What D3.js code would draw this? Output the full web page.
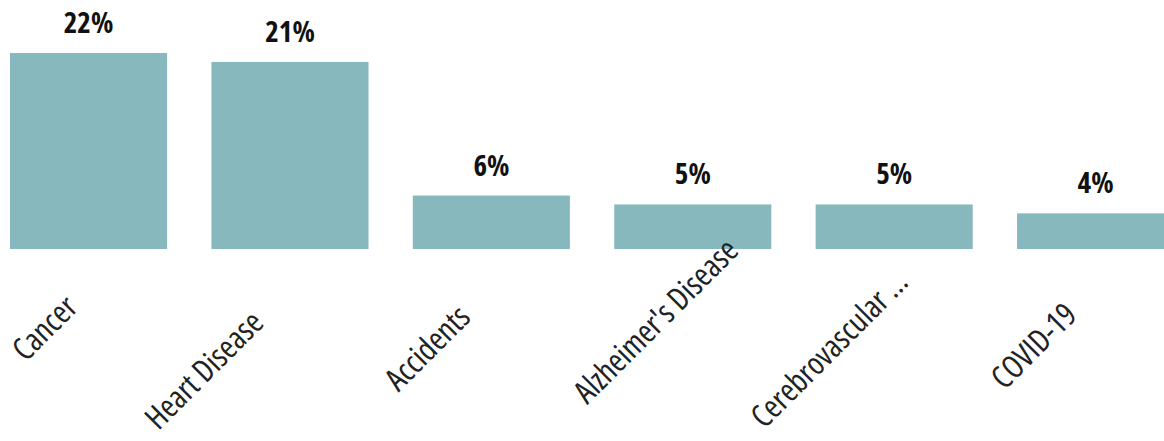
<!DOCTYPE html>
<html>
<head>
<meta charset="utf-8">
<script src="https://cdn.jsdelivr.net/npm/d3@7"></script>
<style>
  html, body { margin: 0; padding: 0; background: #ffffff; }
  svg { display: block; }
</style>
</head>
<body>
<div id="chart"></div>
<script>
// chart data
const categories = ["Cancer", "Heart Disease", "Accidents", "Alzheimer's Disease", "Cerebrovascular \u2026", "COVID-19"];
const shares = [22, 21, 6, 5, 5, 4];

// size of the page
var width = 1164;
var height = 441;

var svg = d3.select("#chart")
    .append("svg")
        .attr("width", width)
        .attr("height", height);

// band scale: bars start at x=10, step ~201px, bar ~157px
var x = d3.scaleBand()
    .domain(categories)
    .range([-12.15, 1196.3])
    .paddingInner(0.22)
    .paddingOuter(0.11);

var y = d3.scaleLinear()
    .domain([0, 22])
    .range([249, 53]);

var fontFamily = '"Open Sans", "DejaVu Sans Condensed", sans-serif';

// BARS ****************************************
svg.selectAll("rect.bar")
    .data(categories)
    .enter().append("rect")
        .attr("class", "bar")
        .attr("x", d => x(d))
        .attr("y", (d, i) => y(shares[i]))
        .attr("width", x.bandwidth())
        .attr("height", (d, i) => y(0) - y(shares[i]))
        .attr("fill", "#86b8bd");

// VALUE LABELS ********************************
svg.selectAll("text.value")
    .data(categories)
    .enter().append("text")
        .attr("class", "value")
        .attr("x", d => x(d) + x.bandwidth() / 2)
        .attr("y", (d, i) => y(shares[i]) - 20)
        .attr("text-anchor", "middle")
        .style("font-family", fontFamily)
        .style("font-stretch", "75%")
        .style("font-weight", "bold")
        .style("font-size", "29px")
        .style("fill", "#111111")
        .text((d, i) => shares[i] + "%");

// CATEGORY LABELS (rotated -45) ***************
// the labels slide along their own direction by a different amount each
var labelSlide = [-44, -86, -64, -37, -65, -62];
var labelLine = 284; // centres sit on x + y = bandCentre + labelLine

svg.selectAll("text.cat")
    .data(categories)
    .enter().append("text")
        .attr("class", "cat")
        .attr("text-anchor", "middle")
        .attr("dy", "0.35em")
        .attr("transform", (d, i) => {
            var cx = x(d) + x.bandwidth() / 2 + labelSlide[i];
            var cy = labelLine - labelSlide[i];
            return "translate(" + cx + "," + cy + ") rotate(-45)";
        })
        .style("font-family", fontFamily)
        .style("font-stretch", "75%")
        .style("font-size", "32px")
        .style("fill", "#222222")
        .text(d => d);
</script>
</body>
</html>
